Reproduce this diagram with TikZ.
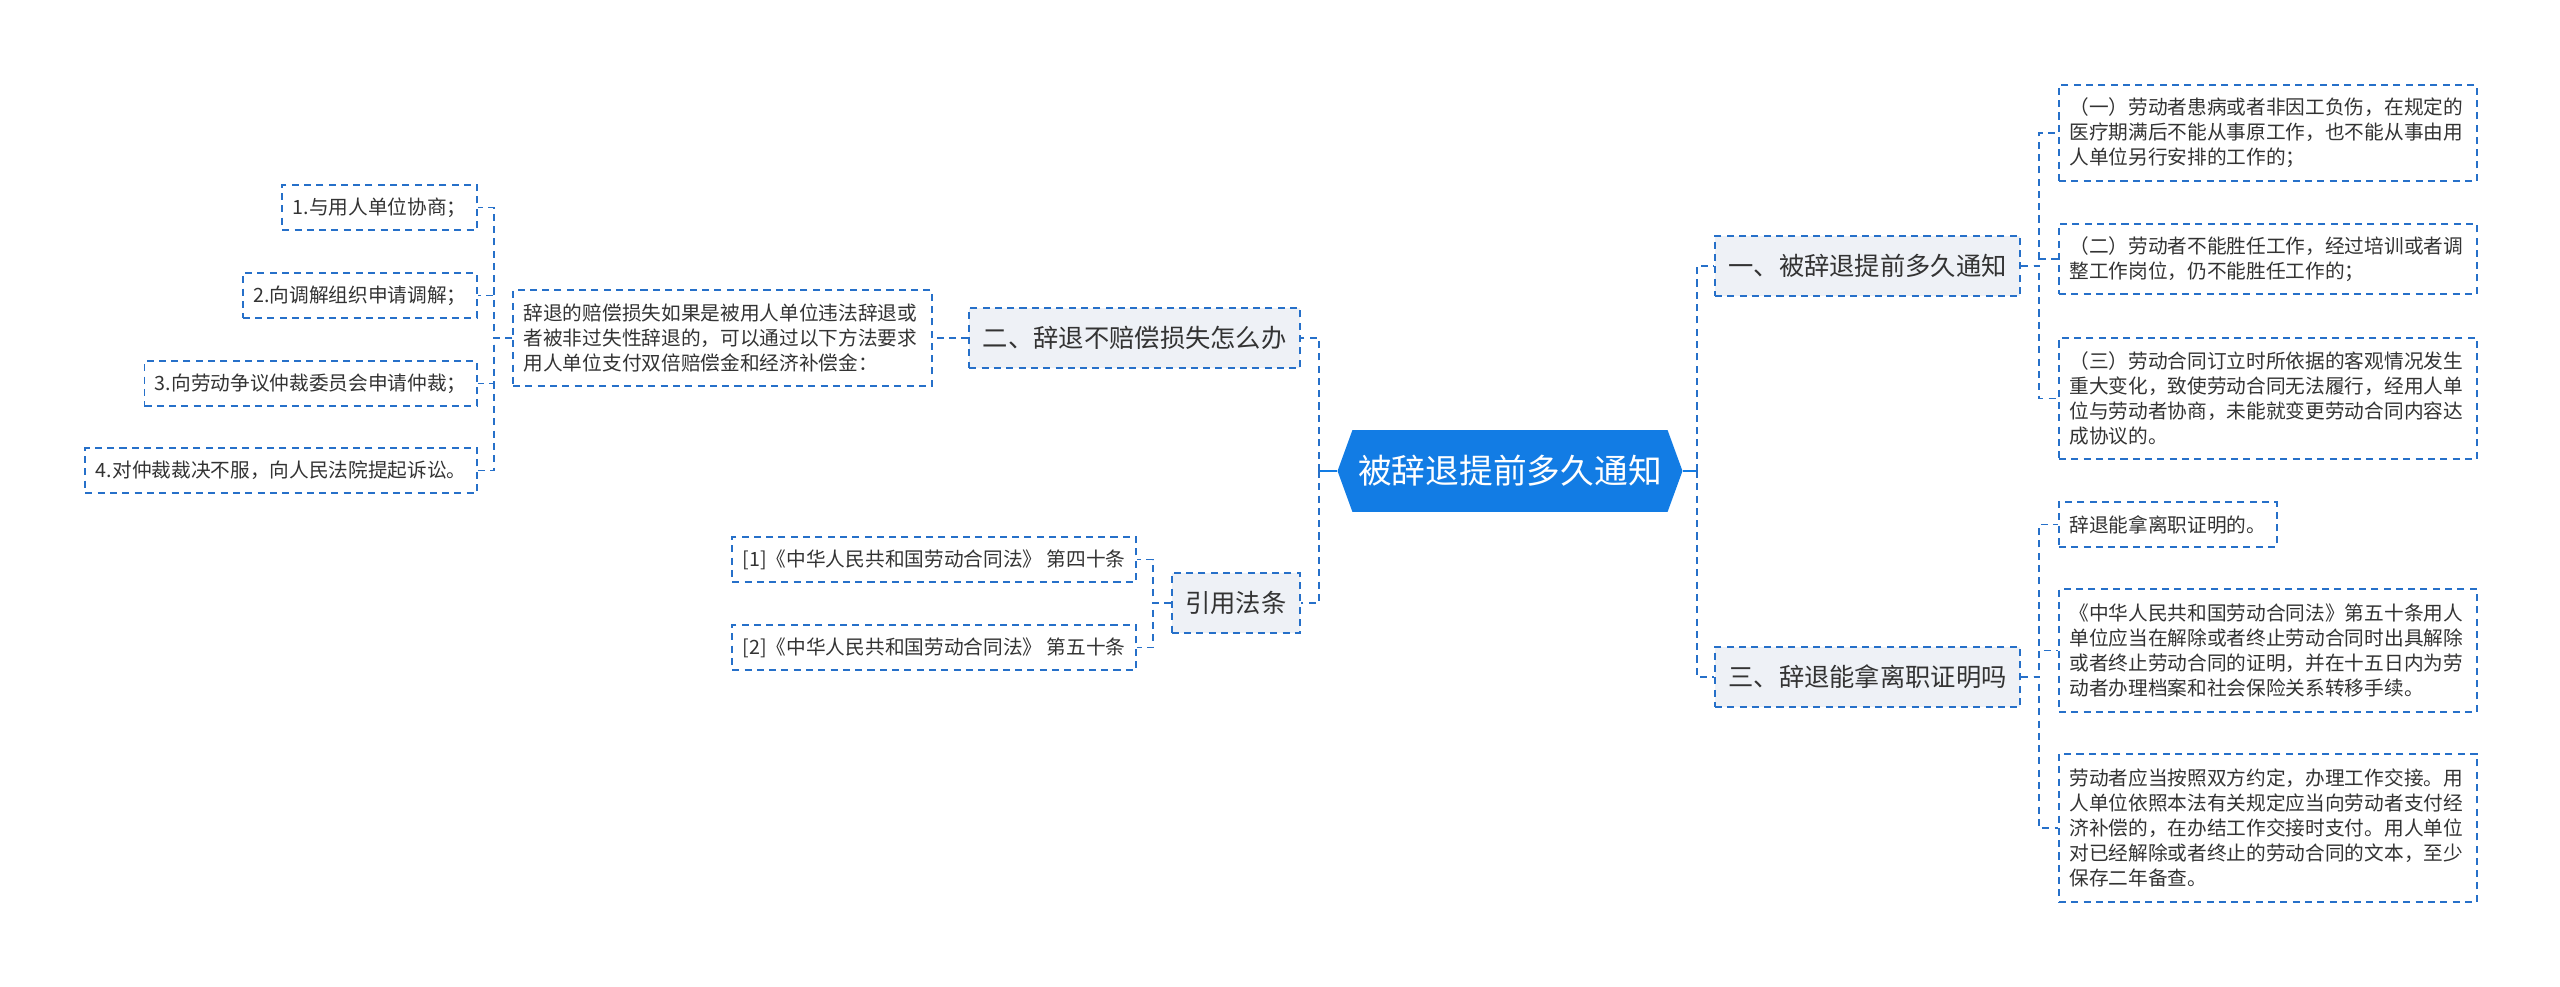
\documentclass[tikz,border=0pt]{standalone}
\usepackage{fontspec}
\setmainfont{Noto Sans CJK SC}
\usetikzlibrary{shapes.symbols}
\definecolor{lineblue}{RGB}{38,112,201}
\definecolor{rootblue}{RGB}{18,124,228}
\definecolor{boxgray}{RGB}{238,241,246}
\definecolor{textgray}{RGB}{51,51,51}

\begin{document}
\begin{tikzpicture}[x=0.02cm, y=-0.02cm,
  link/.style={draw=lineblue, line width=1.1pt, dash pattern=on 4pt off 3pt},
  stub/.style={draw=rootblue, line width=1.7pt},
  branch/.style={draw=lineblue, line width=1.1pt, dash pattern=on 4pt off 3pt,
    fill=boxgray, text=textgray, font=\fontsize{14.4pt}{17pt}\selectfont,
    inner xsep=0.27cm, minimum height=1.2cm},
  leaf/.style={draw=lineblue, line width=1.1pt, dash pattern=on 4pt off 3pt,
    text=textgray, font=\fontsize{11.2pt}{14.2pt}\selectfont,
    inner xsep=0.21cm, align=left}]
\useasboundingbox (0,0) rectangle (2560,987);

% Root
\node[signal, signal to=west and east, signal pointer angle=140, fill=rootblue,
  text=white, font=\fontsize{19.2pt}{23pt}\selectfont,
  minimum width=6.9cm, minimum height=1.64cm, inner sep=0pt]
  (root) at (1510,471) {被辞退提前多久通知};
\coordinate (jr) at (1697,471);
\coordinate (jl) at (1319,471);

% Branches
\node[branch, anchor=west] (b1) at (1714,266) {一、被辞退提前多久通知};
\node[branch, anchor=west] (b3) at (1714,677) {三、辞退能拿离职证明吗};
\node[branch, anchor=east] (b2) at (1301,338) {二、辞退不赔偿损失怎么办};
\node[branch, anchor=east] (b4) at (1301,603) {引用法条};

% Right leaves
\node[leaf, anchor=west, text width=7.94cm, minimum height=1.92cm] (r1) at (2058,133)
  {（一）劳动者患病或者非因工负伤，在规定的\\医疗期满后不能从事原工作，也不能从事由用\\人单位另行安排的工作的；};
\node[leaf, anchor=west, text width=7.94cm, minimum height=1.4cm] (r2) at (2058,259)
  {（二）劳动者不能胜任工作，经过培训或者调\\整工作岗位，仍不能胜任工作的；};
\node[leaf, anchor=west, text width=7.94cm, minimum height=2.42cm] (r3) at (2058,398.5)
  {（三）劳动合同订立时所依据的客观情况发生\\重大变化，致使劳动合同无法履行，经用人单\\位与劳动者协商，未能就变更劳动合同内容达\\成协议的。};
\node[leaf, anchor=west, minimum height=0.9cm] (ra) at (2058,524.5) {辞退能拿离职证明的。};
\node[leaf, anchor=west, text width=7.94cm, minimum height=2.46cm] (rb) at (2058,650.5)
  {《中华人民共和国劳动合同法》第五十条用人\\单位应当在解除或者终止劳动合同时出具解除\\或者终止劳动合同的证明，并在十五日内为劳\\动者办理档案和社会保险关系转移手续。};
\node[leaf, anchor=west, text width=7.94cm, minimum height=2.96cm] (rc) at (2058,828)
  {劳动者应当按照双方约定，办理工作交接。用\\人单位依照本法有关规定应当向劳动者支付经\\济补偿的，在办结工作交接时支付。用人单位\\对已经解除或者终止的劳动合同的文本，至少\\保存二年备查。};

% Left leaves
\node[leaf, anchor=east, text width=7.96cm, minimum height=1.92cm] (desc) at (933,338)
  {辞退的赔偿损失如果是被用人单位违法辞退或\\者被非过失性辞退的，可以通过以下方法要求\\用人单位支付双倍赔偿金和经济补偿金：};
\node[leaf, anchor=east, minimum height=0.9cm] (l1) at (478,207.5) {1.与用人单位协商；};
\node[leaf, anchor=east, minimum height=0.9cm] (l2) at (478,295.5) {2.向调解组织申请调解；};
\node[leaf, anchor=east, minimum height=0.9cm] (l3) at (478,383.5) {3.向劳动争议仲裁委员会申请仲裁；};
\node[leaf, anchor=east, minimum height=0.9cm] (l4) at (478,470.5) {4.对仲裁裁决不服，向人民法院提起诉讼。};
\node[leaf, anchor=east, minimum height=0.9cm] (c1) at (1137,559.5) {[1]《中华人民共和国劳动合同法》 第四十条};
\node[leaf, anchor=east, minimum height=0.9cm] (c2) at (1137,647.5) {[2]《中华人民共和国劳动合同法》 第五十条};

% Connectors
\draw[stub] (root.east) -- (jr);
\draw[stub] (root.west) -- (jl);
\draw[link] (jr) |- (b1.west);
\draw[link] (jr) |- (b3.west);
\draw[link] (jl) |- (b2.east);
\draw[link] (jl) |- (b4.east);
\draw[link] (b1.east) -- ++(18,0) |- (r1.west);
\draw[link] (b1.east) -- ++(18,0) |- (r2.west);
\draw[link] (b1.east) -- ++(18,0) |- (r3.west);
\draw[link] (b3.east) -- ++(18,0) |- (ra.west);
\draw[link] (b3.east) -- ++(18,0) |- (rb.west);
\draw[link] (b3.east) -- ++(18,0) |- (rc.west);
\draw[link] (b2.west) -- (desc.east);
\draw[link] (desc.west) -- ++(-18,0) |- (l1.east);
\draw[link] (desc.west) -- ++(-18,0) |- (l2.east);
\draw[link] (desc.west) -- ++(-18,0) |- (l3.east);
\draw[link] (desc.west) -- ++(-18,0) |- (l4.east);
\draw[link] (b4.west) -- ++(-18,0) |- (c1.east);
\draw[link] (b4.west) -- ++(-18,0) |- (c2.east);
\end{tikzpicture}
\end{document}
